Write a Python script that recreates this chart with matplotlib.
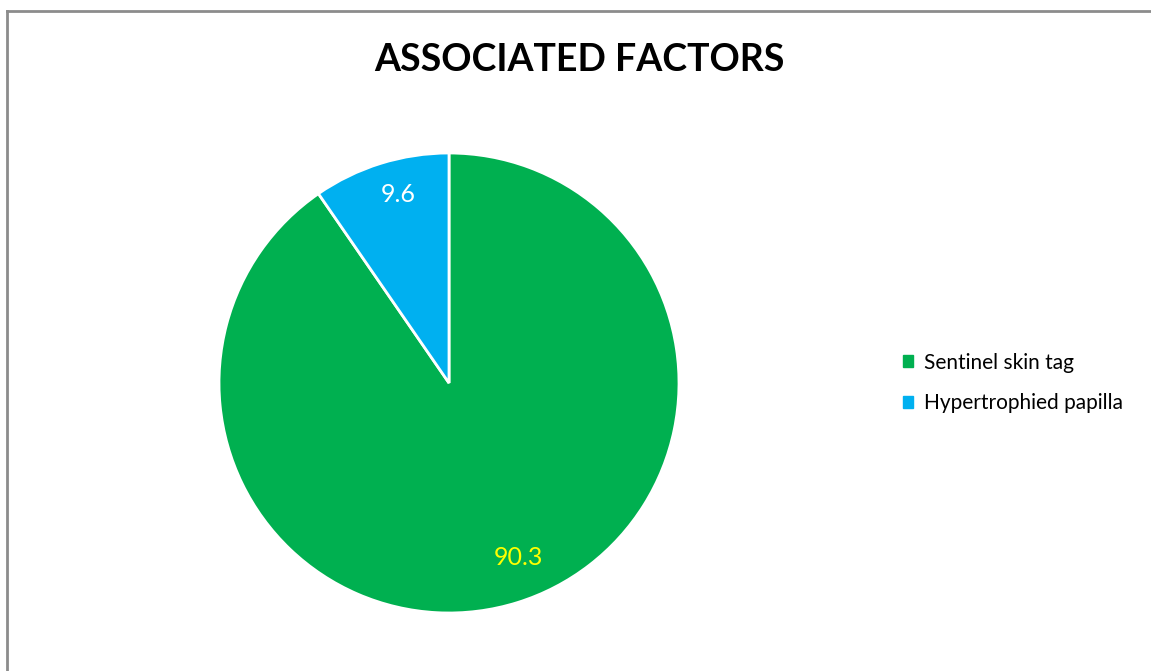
import matplotlib.pyplot as plt
from matplotlib.lines import Line2D

plt.rcParams['font.family'] = ['Lato', 'DejaVu Sans']

# Associated factors (percent)
factors = ['Sentinel skin tag', 'Hypertrophied papilla']
shares = [90.3, 9.6]
slice_colors = ['#00B050', '#00B0F0']
value_colors = ['#FFFF00', '#FFFFFF']

W, H, DPI = 1151, 671, 100
fig = plt.figure(figsize=(W / DPI, H / DPI), dpi=DPI)
fig.patch.set_facecolor('white')

# chart frame (only the top and left edges fall inside the image)
fig.add_artist(Line2D([7.5 / W, 7.5 / W], [0, 1 - 10.5 / H], color='#8c8c8c', lw=2))
fig.add_artist(Line2D([7.5 / W, 1], [1 - 10.5 / H, 1 - 10.5 / H], color='#8c8c8c', lw=2))

fig.text(579 / W, 1 - 60 / H, 'ASSOCIATED FACTORS', ha='center', va='center',
         fontsize=27, fontweight='bold', color='black')

# pie centred at (449, 383) px with radius 230 px
r = 230
ax = fig.add_axes([(449 - r) / W, 1 - (383 + r) / H, 2 * r / W, 2 * r / H])
wedges, texts, autotexts = ax.pie(
    shares, colors=slice_colors, startangle=90, counterclock=False,
    autopct=lambda p: '', pctdistance=0.83,
    wedgeprops=dict(edgecolor='white', linewidth=2))
ax.set_xlim(-1, 1)
ax.set_ylim(-1, 1)
ax.set_aspect('equal')

# small nudges so the value labels sit where the slices read best
nudges = [(0.055, 0.035), (0.025, 0.025)]
for t, val, c, (dx, dy) in zip(autotexts, shares, value_colors, nudges):
    t.set_text(f'{val}')
    t.set_color(c)
    t.set_fontsize(18)
    x, y = t.get_position()
    t.set_position((x + dx, y + dy))

handles = [plt.Rectangle((0, 0), 1, 1, color=c) for c in slice_colors]
fig.legend(handles, factors, loc='center left',
           bbox_to_anchor=(884 / W, 1 - 383 / H), frameon=False,
           fontsize=15, handlelength=0.5, handleheight=0.5,
           handletextpad=0.5, labelspacing=1.0)

fig.savefig('out.png', dpi=DPI)
